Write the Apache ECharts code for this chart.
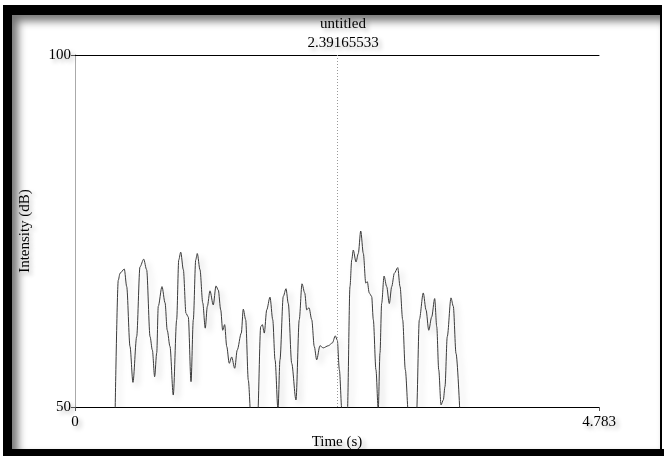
<!DOCTYPE html>
<html>
<head>
<meta charset="utf-8">
<script src="https://cdn.jsdelivr.net/npm/echarts@6/dist/echarts.min.js"></script>
<style>
  html, body { margin: 0; padding: 0; background: #fff; }
  #frame {
    position: absolute; left: 3px; top: 5px; width: 659px; height: 460px;
    box-sizing: border-box;
    border-top: 10px solid #000; border-left: 9px solid #000;
    border-right: 2px solid #000; border-bottom: 0;
  }
  #bottomBar { position: absolute; left: 3px; top: 449px; width: 661px; height: 7px; background: #000; }
  #shade {
    position: absolute; left: 12px; top: 15px; width: 648px; height: 434px;
    box-shadow: inset 6px 6px 8px rgba(0,0,0,0.55);
  }
  #chart { position: absolute; left: 0; top: 0; width: 664px; height: 456px; }
</style>
</head>
<body>
<div id="frame"></div>
<div id="shade"></div>
<div id="bottomBar"></div>
<div id="chart"></div>
<script>
// Time (s) of each intensity sample
var times = [0.365,0.395,0.411,0.450,0.472,0.502,0.529,0.563,0.593,0.627,0.654,0.685,0.706,0.727,0.746,0.760,0.794,0.822,0.842,0.867,
  0.897,0.928,0.947,0.965,0.989,1.013,1.034,1.059,1.080,1.102,1.116,1.141,1.166,1.189,1.208,1.232,1.262,1.287,1.308,1.330,
  1.348,1.366,1.385,1.408,1.430,1.458,1.481,1.518,1.536,1.558,1.582,1.607,1.666,1.695,1.710,1.728,1.750,1.780,1.805,1.826,
  1.853,1.871,1.901,1.926,1.947,1.978,2.017,2.047,2.072,2.097,2.115,2.136,2.161,2.184,2.206,2.236,2.266,2.312,2.349,2.376,
  2.394,2.413,2.437,2.486,2.510,2.526,2.540,2.565,2.586,2.608,2.632,2.654,2.668,2.686,2.708,2.723,2.747,2.768,2.784,2.799,
  2.821,2.845,2.869,2.891,2.915,2.946,2.967,2.991,3.015,3.044,3.117,3.143,3.179,3.204,3.229,3.256,3.283,3.302,3.320,3.341,
  3.362,3.377,3.398,3.432,3.453,3.478,3.514];
// Intensity (dB)
var intensity = [48.2,68.0,69.0,69.6,67.1,58.6,53.5,60.0,69.9,71.0,69.5,60.0,58.1,54.3,57.7,64.3,67.1,64.8,60.9,58.6,
  51.7,62.4,70.9,72.0,69.5,63.3,62.8,53.6,62.4,70.9,71.8,69.5,64.8,61.2,64.3,66.5,64.5,67.2,66.6,63.8,
  60.9,61.7,58.6,56.2,57.1,55.5,58.1,60.5,63.9,62.4,53.8,48.2,48.2,61.4,61.7,60.5,63.8,65.6,62.4,56.7,
  49.6,56.7,65.7,66.8,64.7,56.2,51.0,62.4,67.5,66.2,63.8,64.1,62.4,58.6,56.7,58.7,58.4,58.7,59.1,60.1,
  59.5,55.3,49.3,49.3,67.1,70.9,72.3,70.6,71.8,75.0,71.8,67.6,67.8,66.2,65.7,62.4,55.3,49.6,57.7,64.7,
  68.6,67.1,64.7,67.1,69.0,69.8,67.1,62.4,55.3,48.9,48.9,62.4,66.2,63.8,60.9,62.8,65.4,61.4,55.3,50.3,
  51.0,52.9,60.0,65.5,64.3,57.6,48.9];
var xTickLabels = [0, 4.783];
var yTickLabels = [50, 100];
var cursorTime = 2.39165533;
var chartTitle = 'untitled';

var data = times.map(function (t, i) { return [t, intensity[i]]; });
var serif = '"Liberation Serif", "Times New Roman", serif';
var shadowText = { textShadowColor: 'rgba(0,0,0,0.3)', textShadowBlur: 4, textShadowOffsetX: 3, textShadowOffsetY: 3 };

var chart = echarts.init(document.getElementById('chart'), null, { renderer: 'canvas' });
chart.setOption({
  backgroundColor: 'transparent',
  animation: false,
  textStyle: { fontFamily: serif },
  title: {
    text: chartTitle,
    subtext: String(cursorTime),
    left: 338, top: 12, textAlign: 'center', itemGap: 4,
    textStyle: Object.assign({ fontFamily: serif, fontSize: 15, fontWeight: 'normal', color: '#000' }, shadowText),
    subtextStyle: Object.assign({ fontFamily: serif, fontSize: 15, color: '#000' }, shadowText)
  },
  grid: { left: 75, top: 55, right: 65, bottom: 49, containLabel: false },
  xAxis: [{
    type: 'value', min: 0, max: 4.783, position: 'bottom',
    name: 'Time (s)', nameLocation: 'middle', nameGap: 27,
    nameTextStyle: Object.assign({ fontFamily: serif, fontSize: 15, color: '#000' }, shadowText),
    axisLine: { lineStyle: { color: '#000', width: 1 } },
    axisTick: { show: true, customValues: xTickLabels, length: 4, lineStyle: { color: '#555' } },
    axisLabel: Object.assign({ customValues: xTickLabels, fontFamily: serif, fontSize: 15, color: '#000', margin: 8,
      formatter: function (v) { return String(v); } }, shadowText),
    splitLine: { show: false }
  }, {
    type: 'value', min: 0, max: 4.783, position: 'top',
    axisLine: { show: true, lineStyle: { color: '#000', width: 1 } },
    axisTick: { show: false }, axisLabel: { show: false }, splitLine: { show: false }
  }],
  yAxis: [{
    type: 'value', min: 50, max: 100, interval: 50, position: 'left',
    name: 'Intensity (dB)', nameLocation: 'middle', nameGap: 42, nameRotate: 90,
    nameTextStyle: Object.assign({ fontFamily: serif, fontSize: 15, color: '#000' }, shadowText),
    axisLine: { show: true, lineStyle: { color: '#aaa', width: 1 } },
    axisTick: { show: true, length: 4, lineStyle: { color: '#555' } },
    axisLabel: Object.assign({ customValues: yTickLabels, fontFamily: serif, fontSize: 15, color: '#000', margin: 4 }, shadowText),
    splitLine: { show: false }
  }, {
    type: 'value', min: 50, max: 100, interval: 50, position: 'right',
    axisLine: { show: true, lineStyle: { color: '#aaa', width: 1 } },
    axisTick: { show: false }, axisLabel: { show: false }, splitLine: { show: false }
  }],
  series: [{
    type: 'line',
    data: data,
    xAxisIndex: 0, yAxisIndex: 0,
    showSymbol: false, symbol: 'none',
    smooth: 0.3, smoothMonotone: 'x',
    clip: true,
    lineStyle: { color: '#3a3a3a', width: 1,
      shadowColor: 'rgba(0,0,0,0.22)', shadowBlur: 6, shadowOffsetX: 4, shadowOffsetY: 4 },
    markLine: {
      silent: true, symbol: 'none', label: { show: false },
      lineStyle: { type: [1, 2], color: '#999', width: 1, shadowBlur: 0 },
      data: [{ xAxis: cursorTime }]
    }
  }]
});
</script>
</body>
</html>
